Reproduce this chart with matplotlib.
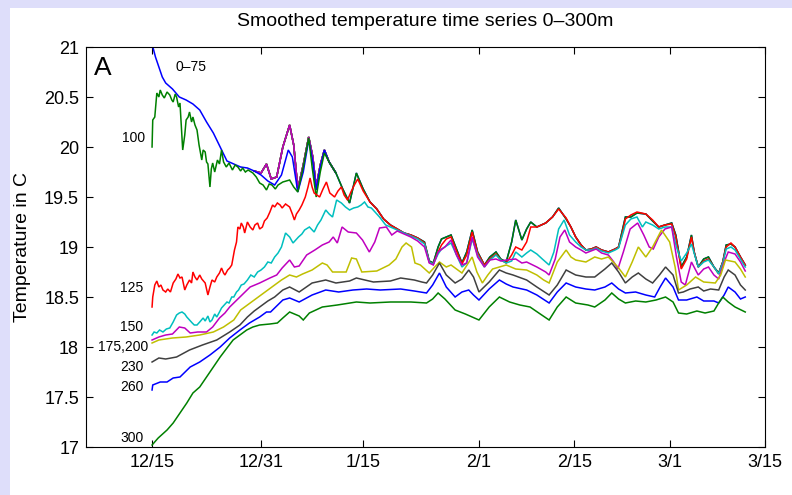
import numpy as np
import matplotlib
matplotlib.use("Agg")
import matplotlib.pyplot as plt
from matplotlib.patches import Rectangle

plt.rcParams['font.family'] = ['Liberation Sans', 'DejaVu Sans']

# Days counted from 12/15
TICK_DAYS = [0, 16, 31, 48, 62, 76, 90]
TICK_LABELS = ["12/15", "12/31", "1/15", "2/1", "2/15", "3/1", "3/15"]

# MATLAB line colours
COLORS = {
    "b": (0, 0, 1), "g": (0, 0.5, 0), "r": (1, 0, 0), "c": (0, 0.75, 0.75),
    "m": (0.75, 0, 0.75), "y": (0.75, 0.75, 0), "k": (0.25, 0.25, 0.25),
}

# (day, temperature) pairs for each depth
t0_60 = [(15, 19.76), (16, 19.74), (16.8, 19.83), (17.5, 19.68), (18.3, 19.7), (19.2, 20.0),
         (20.2, 20.22), (20.8, 20.02), (21.4, 19.58), (22.2, 19.82), (23, 20.1), (23.6, 19.9),
         (24.1, 19.6), (24.7, 19.82), (25.3, 19.97), (26, 19.85), (27, 19.74)]

t75 = [(0, 21.03), (0.5, 20.9), (1, 20.8), (1.5, 20.7), (2, 20.64), (3, 20.58), (4, 20.5),
       (5, 20.47), (6, 20.43), (7, 20.37), (8, 20.25), (9, 20.14), (10, 20.0), (11, 19.86),
       (12, 19.83), (13, 19.8), (14, 19.79), (15, 19.76), (16, 19.72), (17, 19.66), (18, 19.62),
       (19, 19.72), (20, 19.97), (20.6, 19.9), (21.4, 19.55), (22.2, 19.75), (23, 20.07),
       (23.6, 19.85), (24.1, 19.57), (24.7, 19.8), (25.3, 19.97), (26, 19.85), (27, 19.74),
       (28, 19.58), (29, 19.44), (30, 19.74), (31, 19.58), (32, 19.45), (33, 19.38), (34, 19.28),
       (35, 19.22), (36, 19.18), (37, 19.14), (38, 19.12), (39, 19.09), (40, 19.05), (40.7, 18.86),
       (41.3, 18.84), (42, 19.0), (42.5, 19.08), (43.2, 19.1), (43.9, 19.12), (44.7, 18.98),
       (45.5, 18.84), (46.2, 18.95), (47, 19.17), (47.8, 18.95), (48.8, 18.82), (49.6, 18.9),
       (50.5, 18.95), (51.2, 18.88), (52, 18.85), (52.8, 19.05), (53.4, 19.27), (54.3, 19.07),
       (55, 19.18), (55.6, 19.25), (56.5, 19.2), (57.8, 19.24), (58.8, 19.3), (59.7, 19.39),
       (60.8, 19.28), (61.5, 19.2), (62.2, 19.1), (63, 19.02), (63.7, 18.97), (64.5, 18.98),
       (65.2, 19.0), (66, 18.97), (67, 18.95), (68, 18.98), (68.5, 19.0), (69, 19.15), (69.5, 19.3),
       (70.3, 19.3), (71.2, 19.34), (72.5, 19.33), (73.5, 19.26), (74.4, 19.2), (75.3, 19.22),
       (76.3, 19.24), (76.9, 19.12), (77.7, 18.8), (78.5, 18.9), (79.2, 19.12), (79.6, 18.95),
       (80.2, 18.8), (81, 18.88), (81.7, 18.9), (82.5, 18.8), (83.2, 18.74), (83.8, 18.85),
       (84.3, 19.02), (85, 19.03), (85.6, 19.0), (86.4, 18.9), (87.1, 18.82)]

t100_early = [(0, 20.0), (0.1, 20.27), (0.4, 20.3), (0.7, 20.54), (1.0, 20.5), (1.2, 20.57),
              (1.5, 20.52), (1.8, 20.49), (2.2, 20.55), (2.6, 20.52), (2.9, 20.47), (3.1, 20.45),
              (3.4, 20.53), (3.6, 20.5), (3.9, 20.4), (4.1, 20.44), (4.3, 20.2), (4.5, 19.97),
              (4.8, 20.12), (5.0, 20.27), (5.3, 20.3), (5.5, 20.35), (5.8, 20.25), (6.0, 20.3),
              (6.3, 20.22), (6.6, 20.17), (6.9, 20.02), (7.3, 19.87), (7.5, 19.97), (7.8, 19.95),
              (8.0, 19.85), (8.2, 19.83), (8.5, 19.6), (8.7, 19.78), (8.9, 19.84), (9.2, 19.75),
              (9.6, 19.87), (9.9, 19.83), (10.2, 19.97), (10.5, 19.85), (10.9, 19.8), (11.3, 19.84),
              (11.8, 19.77), (12.2, 19.82), (12.6, 19.8), (13.0, 19.76), (13.3, 19.79), (13.7, 19.75),
              (14.1, 19.77), (14.8, 19.74), (15.3, 19.7), (15.8, 19.64), (16.3, 19.62), (16.8, 19.57),
              (17.2, 19.63), (17.6, 19.62), (18.1, 19.58), (18.5, 19.62), (19.2, 19.65), (20.2, 19.67),
              (20.8, 19.6), (21.4, 19.55), (22.2, 19.8), (23, 20.09), (23.5, 19.8), (24.1, 19.5),
              (24.7, 19.75), (25.3, 19.94)]
# below the mixed layer 100 m joins the 75 m record
t100 = t100_early + [p for p in t75 if p[0] >= 26]

t125 = [(0, 18.4), (0.1, 18.5), (0.4, 18.62), (0.7, 18.66), (1.0, 18.6), (1.3, 18.62), (1.6, 18.57),
        (2.0, 18.55), (2.3, 18.58), (2.7, 18.55), (3.1, 18.64), (3.5, 18.68), (3.8, 18.73),
        (4.1, 18.69), (4.4, 18.7), (4.8, 18.57), (5.1, 18.62), (5.5, 18.67), (5.8, 18.64),
        (6.0, 18.75), (6.3, 18.7), (6.6, 18.67), (7.0, 18.72), (7.3, 18.68), (7.8, 18.64),
        (8.2, 18.52), (8.5, 18.6), (8.8, 18.67), (9.2, 18.65), (9.5, 18.7), (9.9, 18.74),
        (10.2, 18.79), (10.5, 18.74), (10.7, 18.72), (11.1, 18.77), (11.4, 18.79), (11.7, 18.82),
        (12.1, 18.97), (12.4, 19.05), (12.6, 19.2), (12.9, 19.18), (13.1, 19.24), (13.4, 19.2),
        (13.6, 19.14), (14.0, 19.25), (14.4, 19.2), (14.8, 19.17), (15.1, 19.22), (15.5, 19.24),
        (15.8, 19.18), (16.2, 19.2), (16.5, 19.26), (16.9, 19.29), (17.3, 19.35), (17.7, 19.42),
        (18.0, 19.4), (18.4, 19.44), (18.8, 19.42), (19.1, 19.39), (19.6, 19.43), (20.2, 19.4),
        (20.6, 19.33), (20.9, 19.27), (21.2, 19.33), (21.6, 19.37), (22.0, 19.42), (22.5, 19.5),
        (22.9, 19.6), (23.2, 19.69), (23.5, 19.6), (23.8, 19.54), (24.2, 19.52), (24.6, 19.5),
        (25.1, 19.58), (25.6, 19.65), (26.1, 19.54), (26.8, 19.5), (27.3, 19.56), (27.8, 19.6),
        (28.2, 19.52), (28.7, 19.47), (29.2, 19.55), (29.7, 19.62), (30.2, 19.68), (31, 19.56),
        (32, 19.45), (33, 19.38),
        (34, 19.28), (35, 19.22), (36, 19.18), (37, 19.14), (38, 19.12), (39, 19.09), (40, 19.04),
        (40.7, 18.85), (41.3, 18.83), (42, 18.95), (42.5, 19.02), (43.2, 19.08), (43.9, 19.1),
        (44.7, 18.96), (45.5, 18.83), (46.2, 18.92), (47, 19.15), (47.8, 18.94), (48.8, 18.82),
        (49.6, 18.88), (50.5, 18.93), (51.2, 18.87), (52, 18.84), (52.8, 18.92), (53.4, 19.0),
        (54.3, 18.97), (55, 19.05), (55.6, 19.2), (56.5, 19.2), (57.8, 19.24), (58.8, 19.3),
        (59.7, 19.38), (60.8, 19.29), (61.5, 19.2), (62.2, 19.1), (63, 19.02), (63.7, 18.97),
        (64.5, 18.98), (65.2, 19.0), (66, 18.97), (67, 18.95), (68, 18.98), (68.5, 19.0), (69, 19.12),
        (69.5, 19.28), (70.3, 19.32), (71.2, 19.35), (72.5, 19.33), (73.5, 19.27), (74.4, 19.2),
        (75.3, 19.22), (76.3, 19.23), (76.9, 19.1), (77.7, 18.78), (78.5, 18.88), (79.2, 19.1),
        (79.6, 18.95), (80.2, 18.8), (81, 18.86), (81.7, 18.88), (82.5, 18.8), (83.2, 18.73),
        (83.8, 18.85), (84.3, 19.0), (85, 19.04), (85.6, 19.0), (86.4, 18.9), (87.1, 18.82)]

t150 = [(0, 18.12), (0.3, 18.15), (0.7, 18.14), (1.1, 18.17), (1.6, 18.15), (2.1, 18.18), (2.6, 18.19),
        (3.1, 18.25), (3.6, 18.32), (4.0, 18.34), (4.4, 18.35), (4.8, 18.33), (5.1, 18.3), (5.5, 18.27),
        (5.9, 18.24), (6.2, 18.22), (6.6, 18.22), (7.0, 18.25), (7.5, 18.29), (7.8, 18.26),
        (8.2, 18.31), (8.5, 18.25), (8.8, 18.27), (9.2, 18.33), (9.5, 18.3), (9.9, 18.35),
        (10.2, 18.39), (10.6, 18.42), (11.0, 18.45), (11.3, 18.44), (11.7, 18.5), (12.0, 18.5),
        (12.4, 18.55), (12.7, 18.57), (13.1, 18.62), (13.5, 18.63), (14.0, 18.67), (14.5, 18.72),
        (15.0, 18.7), (15.5, 18.75), (16.0, 18.77), (16.5, 18.8), (17.0, 18.85), (17.5, 18.84),
        (18.0, 18.9), (18.5, 18.94), (19.0, 19.0), (19.6, 19.14), (20.2, 19.1), (20.7, 19.04),
        (21.1, 19.07), (21.5, 19.1), (22.0, 19.13), (22.4, 19.17), (23.1, 19.2), (23.8, 19.15),
        (24.3, 19.22), (24.8, 19.27), (25.5, 19.37), (26, 19.33), (26.5, 19.3), (27.1, 19.47),
        (27.8, 19.44), (28.4, 19.4), (29, 19.37), (29.6, 19.39), (30.2, 19.4), (30.7, 19.42),
        (31.2, 19.45), (31.7, 19.4), (32.2, 19.39), (33.4, 19.3), (34.3, 19.22),
        (35, 19.2), (36, 19.17), (37, 19.14), (38, 19.11), (39, 19.08), (40, 19.03), (40.7, 18.85),
        (41.3, 18.83), (42, 18.93), (42.5, 18.98), (43.9, 19.04), (44.7, 18.92), (45.5, 18.8),
        (46.2, 18.84), (47, 19.08), (47.8, 18.92), (48.8, 18.8), (49.6, 18.87), (50.5, 18.92),
        (51.2, 18.87), (52, 18.84), (52.8, 18.86), (53.4, 18.95), (54.3, 18.9), (55, 18.94),
        (55.6, 18.97), (56.5, 18.93), (57.3, 18.88), (58.3, 18.82), (59, 18.95), (59.7, 19.18),
        (60.5, 19.27), (61.3, 19.12), (62.2, 19.05), (63, 19.0), (63.7, 18.97), (64.5, 18.97),
        (65.2, 18.99), (66, 18.96), (67, 18.94), (68, 18.97), (68.5, 18.99), (69.5, 19.22),
        (70.3, 19.28), (71.2, 19.3), (72, 19.2), (72.5, 19.25), (73.5, 19.22), (74.4, 19.18),
        (75.3, 19.2), (76.3, 19.2), (77, 19.0), (77.7, 18.86), (78.5, 18.94), (79.2, 19.03),
        (80.2, 18.8), (81, 18.85), (81.7, 18.87), (82.5, 18.8), (83.2, 18.73), (83.8, 18.84),
        (84.3, 18.98), (85, 19.0), (85.6, 18.97), (86.4, 18.88), (87.1, 18.8)]

t175 = [(0, 18.07), (1, 18.1), (2, 18.12), (3, 18.13), (4, 18.2), (4.8, 18.19), (5.6, 18.14),
        (6.7, 18.15), (8, 18.15), (8.9, 18.2), (9.9, 18.29), (10.7, 18.34), (11.4, 18.4), (12.9, 18.5),
        (14.4, 18.6), (15.8, 18.64), (17.3, 18.69), (18.3, 18.72), (19.1, 18.79), (20.2, 18.87),
        (20.9, 18.8), (21.6, 18.81), (22.7, 18.92), (23.9, 18.97), (25, 19.02), (26, 19.05),
        (26.6, 19.1), (27.2, 19.04), (27.9, 19.2), (28.8, 19.15), (30, 19.14), (30.9, 19.07),
        (31.9, 18.95), (32.7, 19.05), (33.4, 19.19), (34.4, 19.2), (35.2, 19.12), (36, 19.16),
        (37, 19.13), (38, 19.1), (39, 19.06), (40, 19.0), (40.7, 18.84), (41.3, 18.82), (42, 18.95),
        (43, 19.0), (43.9, 19.07), (44.7, 18.92), (45.5, 18.82), (46.2, 18.84), (47, 19.1),
        (47.8, 18.9), (48.8, 18.8), (49.6, 18.87), (50.5, 18.88), (51.2, 18.86), (52, 18.87),
        (53.4, 18.88), (54.3, 18.84), (55, 18.85), (56.5, 18.8), (57.8, 18.75), (58.3, 18.72),
        (59.2, 18.88), (59.9, 19.1), (60.6, 19.17), (61.3, 19.05), (62.2, 19.0), (63, 18.97),
        (63.7, 18.94), (65.2, 18.98), (66, 18.94), (67, 18.92), (67.8, 18.85), (68.4, 18.78),
        (69.2, 18.95), (70.2, 19.18), (71.3, 19.24), (72.2, 19.12), (73, 19.0), (73.6, 18.98),
        (74.4, 19.1), (75.3, 19.18), (76.3, 19.2), (77, 18.9), (77.7, 18.65), (78.3, 18.62),
        (79.2, 18.85), (80.2, 18.72), (81, 18.78), (81.7, 18.8), (82.5, 18.72), (83.2, 18.68),
        (84, 18.85), (84.6, 18.95), (85.6, 18.93), (86.4, 18.85), (87.1, 18.76)]

t200 = [(0, 18.04), (1, 18.07), (3, 18.09), (5, 18.1), (7, 18.12), (9, 18.15), (10.5, 18.2), (12, 18.27),
        (13, 18.37), (14, 18.42), (15, 18.47), (16, 18.52), (17, 18.57), (18, 18.62), (19, 18.67),
        (20.2, 18.72), (21.2, 18.7), (22.1, 18.73), (23.5, 18.77), (25, 18.84), (25.7, 18.82),
        (26.5, 18.75), (28.5, 18.75), (29.3, 18.89), (30, 18.88), (30.8, 18.75), (33, 18.76),
        (34.8, 18.82), (35.8, 18.88), (36.7, 19.0), (37.3, 19.04), (38.1, 19.0), (38.6, 18.84),
        (39.4, 18.82), (40.7, 18.74), (41.5, 18.8), (42.2, 18.85), (43.2, 18.8), (43.9, 18.82),
        (45.5, 18.74), (47, 18.9), (47.7, 18.75), (48.5, 18.64), (49.3, 18.72), (50, 18.78),
        (51, 18.8), (52, 18.82), (53.4, 18.78), (55, 18.77), (56.5, 18.72), (57.5, 18.67),
        (58.3, 18.64), (59.5, 18.85), (60.8, 18.97), (61.5, 18.9), (62.2, 18.87), (63.7, 18.85),
        (65, 18.9), (66, 18.88), (67, 18.9), (68.4, 18.8), (69.5, 18.7), (70.5, 18.85), (71.4, 19.0),
        (72.5, 18.9), (73.5, 19.0), (74.8, 19.17), (76, 19.05), (76.8, 18.8), (77.3, 18.57),
        (78.5, 18.62), (79.8, 18.7), (81, 18.65), (82.7, 18.64), (83.5, 18.72), (84.2, 18.87),
        (85.6, 18.85), (86.4, 18.78), (87.1, 18.7)]

t230 = [(0, 17.85), (1, 17.89), (2, 17.88), (3.6, 17.9), (5.5, 17.97), (7.4, 18.02), (9.5, 18.07),
        (11.4, 18.15), (12.9, 18.22), (14, 18.3), (15, 18.36), (16, 18.41), (17, 18.46), (18, 18.5),
        (19.2, 18.57), (20.2, 18.6), (21.6, 18.55), (23.5, 18.64), (25.5, 18.67), (27, 18.64),
        (29, 18.66), (30, 18.69), (32.5, 18.65), (35, 18.66), (36.5, 18.69), (38.5, 18.67),
        (39.6, 18.65), (40.3, 18.64), (41.2, 18.72), (42.2, 18.84), (43.2, 18.72), (44.5, 18.64),
        (45.5, 18.68), (46.5, 18.77), (47.2, 18.7), (48, 18.55), (49.5, 18.65), (51, 18.77),
        (52, 18.74), (53, 18.72), (55, 18.67), (56.5, 18.6), (58.3, 18.52), (59.5, 18.62),
        (60.8, 18.77), (62.2, 18.72), (63.7, 18.7), (65, 18.7), (66.5, 18.78), (67.5, 18.84),
        (68.5, 18.75), (69.5, 18.64), (70.5, 18.7), (71.4, 18.74), (72.5, 18.68), (73.5, 18.64),
        (74.5, 18.72), (75.4, 18.8), (76.5, 18.72), (77.3, 18.54), (78, 18.55), (79, 18.58),
        (80.2, 18.6), (81, 18.56), (82, 18.58), (83.2, 18.57), (84, 18.7), (84.6, 18.77),
        (85.6, 18.72), (86.4, 18.62), (87.1, 18.57)]

t260 = [(0, 17.57), (0.1, 17.62), (1.2, 17.65), (2.2, 17.65), (3.1, 17.69), (4.1, 17.7), (5.6, 17.8),
        (7, 17.85), (8.5, 17.92), (10, 18.0), (11.4, 18.09), (12.9, 18.17), (14.3, 18.24), (15.8, 18.3),
        (16.8, 18.35), (17.4, 18.35), (19.2, 18.47), (20.2, 18.49), (21.6, 18.45), (23.5, 18.52),
        (25.5, 18.57), (27.4, 18.55), (29.5, 18.57), (31.5, 18.58), (33.5, 18.57), (36.5, 18.58),
        (38.5, 18.56), (40.3, 18.54), (41.2, 18.62), (42.2, 18.74), (43.2, 18.6), (44.5, 18.5),
        (45.5, 18.55), (46.5, 18.57), (47.2, 18.52), (48, 18.47), (49.5, 18.58), (51, 18.67),
        (52, 18.63), (53, 18.6), (55, 18.57), (56.5, 18.52), (58.3, 18.44), (59.5, 18.55),
        (60.8, 18.64), (62.2, 18.6), (63.7, 18.58), (65, 18.57), (66.5, 18.6), (67.5, 18.64),
        (68.5, 18.58), (69.5, 18.54), (71, 18.55), (72.5, 18.52), (73.8, 18.5), (74.6, 18.6),
        (75.4, 18.69), (76.5, 18.6), (77.3, 18.47), (78.5, 18.47), (80, 18.5), (81, 18.46),
        (82.5, 18.46), (83.2, 18.44), (84, 18.52), (84.6, 18.6), (85.6, 18.55), (86.4, 18.48),
        (87.1, 18.5)]

t300 = [(0, 17.02), (0.9, 17.09), (2.2, 17.17), (3.1, 17.24), (4.1, 17.34), (5.1, 17.44), (6, 17.54),
        (7, 17.6), (8, 17.7), (9, 17.8), (10, 17.9), (11, 17.99), (11.9, 18.07), (12.9, 18.12),
        (13.9, 18.17), (14.8, 18.2), (15.8, 18.22), (17.3, 18.23), (18.4, 18.24), (19.2, 18.29),
        (20.2, 18.35), (21.6, 18.31), (22.2, 18.27), (23.1, 18.34), (25, 18.4), (27.2, 18.42),
        (30, 18.45), (32, 18.44), (35, 18.45), (38, 18.45), (40.3, 18.44), (41.2, 18.48), (42, 18.54),
        (43, 18.48), (44.5, 18.37), (46, 18.33), (47, 18.3), (48, 18.27), (49.5, 18.4), (51, 18.5),
        (52.5, 18.45), (54, 18.42), (55.5, 18.4), (57, 18.33), (58.3, 18.27), (59.5, 18.4),
        (60.8, 18.5), (62.2, 18.44), (64, 18.42), (65, 18.4), (66.5, 18.47), (67.5, 18.54),
        (68.5, 18.48), (69.5, 18.44), (71, 18.46), (72.5, 18.45), (74, 18.47), (75.4, 18.5),
        (76.5, 18.45), (77.3, 18.34), (78.5, 18.33), (80, 18.36), (81.2, 18.34), (82.5, 18.36),
        (83.2, 18.44), (83.8, 18.5), (84.6, 18.45), (85.6, 18.4), (87.1, 18.35)]

# depth labels: text, day, temperature
DEPTH_LABELS = [("0\u201375", 3.4, 20.8), ("100", -4.4, 20.09), ("125", -4.7, 18.59),
                ("150", -4.7, 18.2), ("175,200", -8.0, 18.0), ("230", -4.7, 17.8),
                ("260", -4.7, 17.6), ("300", -4.7, 17.09)]

fig = plt.figure(figsize=(7.92, 4.95), dpi=100, facecolor="#dedefa")
fig.patches.append(Rectangle((10 / 792, 0), 1, 1 - 8 / 495, transform=fig.transFigure,
                             facecolor="white", edgecolor="none", zorder=-1))
ax = fig.add_axes([86 / 792, 48 / 495, 679 / 792, 400 / 495])

# shallow 0-60 m lines sit together; the warmest ones show on top at the peaks
series = [(t0_60, c) for c in "bgrcykm"] + [
    (t75, "b"), (t100, "g"), (t125, "r"), (t150, "c"),
    (t175, "m"), (t200, "y"), (t230, "k"), (t260, "b"), (t300, "g"),
]
for data, c in series:
    d, t = np.array(data).T
    ax.plot(d, t, color=COLORS[c], lw=1.1, solid_joinstyle="miter")

for text, d, t in DEPTH_LABELS:
    ax.text(d, t, text, fontsize=10, ha="left", va="center")
ax.text(-8.6, 20.79, "A", fontsize=19, ha="left", va="center")

ax.set_xlim(-9.7, 90)
ax.set_ylim(17, 21)
ax.set_xticks(TICK_DAYS)
ax.set_xticklabels(TICK_LABELS)
ax.set_yticks(np.arange(17, 21.01, 0.5))
ax.set_yticklabels(["17", "17.5", "18", "18.5", "19", "19.5", "20", "20.5", "21"])
ax.tick_params(direction="in", length=5, width=0.8, top=True, right=True, labelsize=13, pad=5)
for sp in ax.spines.values():
    sp.set_linewidth(0.8)

fig.text(425 / 792, 1 - 22 / 495, "Smoothed temperature time series 0\u2013300m",
         ha="center", va="center", fontsize=14)
fig.text(23 / 792, 0.5, "Temperature in C", rotation=90, ha="center", va="center", fontsize=14)

fig.savefig("out.png", dpi=100, facecolor=fig.get_facecolor())
